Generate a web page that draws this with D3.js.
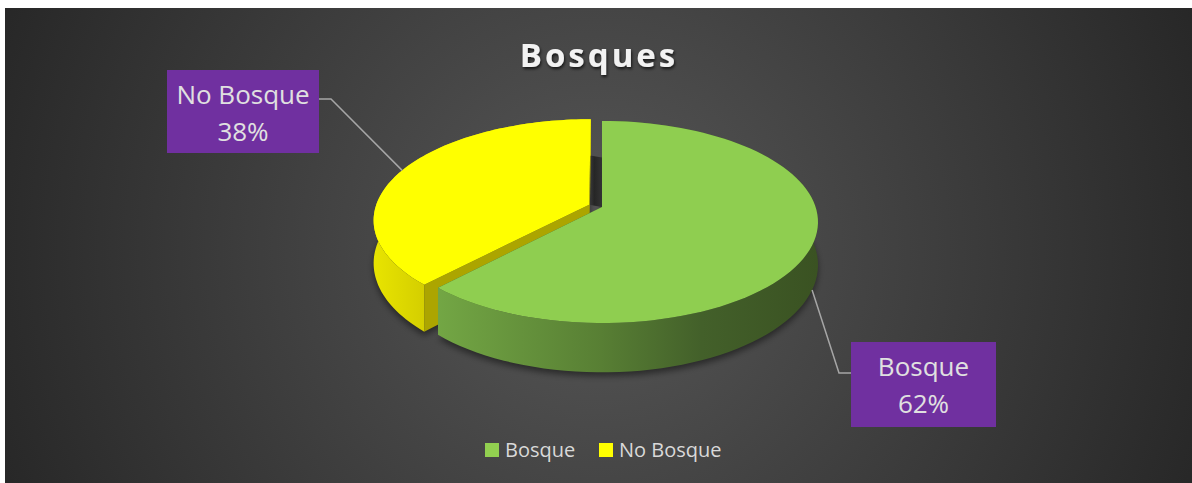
<!DOCTYPE html>
<html>
<head>
<meta charset="utf-8">
<script src="https://cdn.jsdelivr.net/npm/d3@7"></script>
<style>
  body { margin: 0; background: #fff; }
  svg { display: block; font-family: "Open Sans", sans-serif; }
</style>
</head>
<body>
<div id="chart"></div>
<script>
// data
var categories = ["Bosque", "No Bosque"];
var values = [62, 38];
var chartTitle = "Bosques";

// styles
var topColors = ["#8fce50", "#ffff00"];
var legendColors = ["#92d050", "#ffff00"];
var explode = [0, 0.065];

var W = 1192, H = 483;
var cx = 602, cy = 207;       // projected pie centre
var A = 213.6, B = 98.8;      // half axes before perspective
var P = 0.1486;               // perspective strength
var depth = 42;               // pie thickness

var svg = d3.select("#chart").append("svg")
    .attr("width", W)
    .attr("height", H);
var defs = svg.append("defs");

// background
var bg = defs.append("radialGradient")
    .attr("id", "bg")
    .attr("gradientUnits", "userSpaceOnUse")
    .attr("cx", 598).attr("cy", 250).attr("r", 660);
bg.append("stop").attr("offset", 0).attr("stop-color", "#575757");
bg.append("stop").attr("offset", 1).attr("stop-color", "#262626");

svg.append("rect")
    .attr("x", 5).attr("y", 8)
    .attr("width", W - 5).attr("height", H - 8)
    .attr("fill", "url(#bg)");

// filters
var sh = defs.append("filter").attr("id", "titleShadow")
    .attr("x", "-10%").attr("y", "-30%").attr("width", "120%").attr("height", "160%");
sh.append("feDropShadow").attr("dx", 1).attr("dy", 2).attr("stdDeviation", 1.5)
    .attr("flood-color", "#000").attr("flood-opacity", 0.7);

var blur = defs.append("filter").attr("id", "pieShadow")
    .attr("x", "-10%").attr("y", "-10%").attr("width", "120%").attr("height", "130%");
blur.append("feGaussianBlur").attr("stdDeviation", 3);

// wall gradients
var gWall = defs.append("linearGradient").attr("id", "greenWall")
    .attr("gradientUnits", "userSpaceOnUse")
    .attr("x1", 430).attr("y1", 0).attr("x2", 818).attr("y2", 0);
[[0, "#74a845"], [0.44, "#587f34"], [0.7, "#43602a"], [1, "#3a5222"]].forEach(function(s){
    gWall.append("stop").attr("offset", s[0]).attr("stop-color", s[1]);
});
var yWall = defs.append("linearGradient").attr("id", "yellowWall")
    .attr("gradientUnits", "userSpaceOnUse")
    .attr("x1", 372).attr("y1", 0).attr("x2", 430).attr("y2", 0);
yWall.append("stop").attr("offset", 0).attr("stop-color", "#e9e500");
yWall.append("stop").attr("offset", 1).attr("stop-color", "#d2cc00");
var gap = defs.append("linearGradient").attr("id", "gapFill")
    .attr("x1", 0).attr("y1", 0).attr("x2", 1).attr("y2", 0);
gap.append("stop").attr("offset", 0).attr("stop-color", "#3c3c3c");
gap.append("stop").attr("offset", 0.4).attr("stop-color", "#262626");
gap.append("stop").attr("offset", 1).attr("stop-color", "#333");

var wallFills = ["url(#greenWall)", "url(#yellowWall)"];
var cutFills = ["#3e5a25", "#aca500"];

// scales + projection
var xs = d3.scaleLinear().domain([-1, 1]).range([cx - A, cx + A]);
var ys = d3.scaleLinear().domain([-1, 1]).range([cy - B, cy + B]);

function proj(angle, r, off, drop) {
    var u = r * Math.sin(angle) + off.du;
    var v = -r * Math.cos(angle) + off.dv;
    var den = 1 - P * v;
    return [cx + (xs(u) - cx) / den, cy + (ys(v) - cy) / den + depth * drop / den];
}

var pie = d3.pie().sort(null).startAngle(0).endAngle(2 * Math.PI);
var arcs = pie(values);
var total = d3.sum(values);
arcs.forEach(function(d, i){
    var m = (d.startAngle + d.endAngle) / 2;
    d.mid = m;
    d.off = { du: explode[i] * Math.sin(m), dv: -explode[i] * Math.cos(m) };
});

function arcPts(d, drop, rev) {
    var n = 90;
    var pts = d3.range(n + 1).map(function(k){
        var a = d.startAngle + (d.endAngle - d.startAngle) * k / n;
        return proj(a, 1, d.off, drop);
    });
    return rev ? pts.reverse() : pts;
}
var line = d3.line();

// shadow under the pie
var shadowG = svg.append("g").attr("filter", "url(#pieShadow)")
    .attr("transform", "translate(0,4)");
arcs.forEach(function(d){
    shadowG.append("path")
        .attr("d", line([proj(0, 0, d.off, 1)].concat(arcPts(d, 1))) + "Z")
        .attr("fill", "#000").attr("opacity", 0.45);
});

// dark gap at the 12 o'clock cut
var gapPts = [
    proj(0, 0.54, arcs[1].off, 0),
    proj(0, 0.54, arcs[0].off, 0),
    proj(0, 0, arcs[0].off, 0),
    proj(0, 0, arcs[1].off, 0)
];
svg.append("path").attr("d", line(gapPts) + "Z").attr("fill", "url(#gapFill)");

// draw the back slice (No Bosque) first, then the front one
[1, 0].forEach(function(i){
    var d = arcs[i];
    var g = svg.append("g");
    // radial cut faces
    [d.startAngle, d.endAngle].forEach(function(a){
        var q = [proj(a, 0, d.off, 0), proj(a, 1, d.off, 0), proj(a, 1, d.off, 1), proj(a, 0, d.off, 1)];
        g.append("path").attr("d", line(q) + "Z").attr("fill", cutFills[i]);
    });
    // outer wall
    g.append("path")
        .attr("d", line(arcPts(d, 0).concat(arcPts(d, 1, true))) + "Z")
        .attr("fill", wallFills[i]);
    // top face
    g.append("path")
        .attr("d", line([proj(0, 0, d.off, 0)].concat(arcPts(d, 0))) + "Z")
        .attr("fill", topColors[i]);
});

// title
svg.append("text")
    .attr("x", 599).attr("y", 67)
    .attr("text-anchor", "middle")
    .attr("font-size", 33)
    .attr("font-weight", "bold")
    .attr("letter-spacing", 3)
    .attr("fill", "#f2f2f2")
    .attr("filter", "url(#titleShadow)")
    .text(chartTitle);

// data labels
var boxes = [
    { x: 851, y: 342, w: 145, h: 85, side: "left", drop: 1 },
    { x: 167, y: 70, w: 152, h: 83, side: "right", drop: 0 }
];
arcs.forEach(function(d, i){
    var b = boxes[i];
    var target = proj(d.mid, 1, d.off, b.drop);
    var ax = b.side === "left" ? b.x : b.x + b.w;
    var ay = b.side === "left" ? b.y + 31 : b.y + 29;
    var bx = b.side === "left" ? ax - 12 : ax + 12;
    svg.append("path")
        .attr("d", line([[ax, ay], [bx, ay], target]))
        .attr("fill", "none")
        .attr("stroke", "#a6a6a6")
        .attr("stroke-width", 1.5);
    svg.append("rect")
        .attr("x", b.x).attr("y", b.y)
        .attr("width", b.w).attr("height", b.h)
        .attr("fill", "#7030a0");
    var t = svg.append("text")
        .attr("text-anchor", "middle")
        .attr("font-size", 26)
        .attr("fill", "#e0e0e0");
    t.append("tspan").attr("x", b.x + b.w / 2).attr("y", b.y + 34).text(categories[i]);
    t.append("tspan").attr("x", b.x + b.w / 2).attr("y", b.y + 71)
        .text(Math.round(d.value / total * 100) + "%");
});

// legend
var legendX = [485, 599];
categories.forEach(function(c, i){
    svg.append("rect")
        .attr("x", legendX[i]).attr("y", 443)
        .attr("width", 14).attr("height", 14)
        .attr("fill", legendColors[i]);
    svg.append("text")
        .attr("x", legendX[i] + 20).attr("y", 457)
        .attr("font-size", 20)
        .attr("fill", "#d9d9d9")
        .text(c);
});
</script>
</body>
</html>
